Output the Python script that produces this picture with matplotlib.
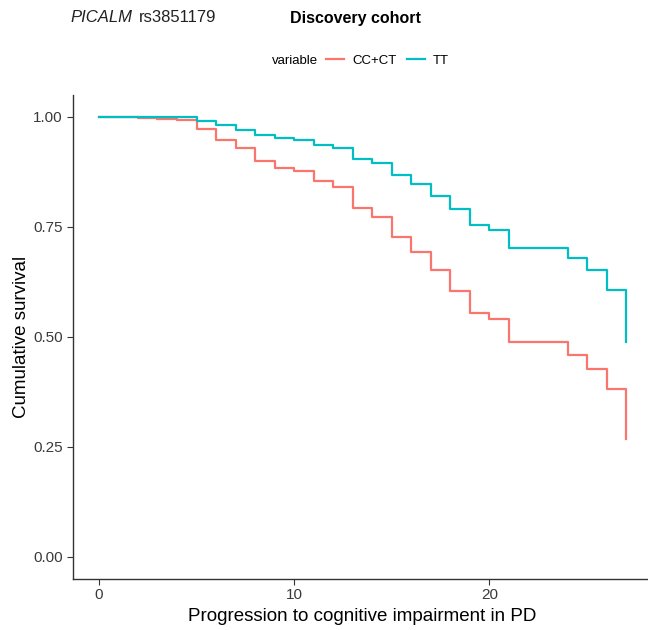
import numpy as np
import matplotlib.pyplot as plt
from matplotlib.lines import Line2D

plt.rcParams['font.family'] = ['Liberation Sans', 'DejaVu Sans']

# survival curves (step changes at whole years)
time_cc = [0, 2, 3, 4, 5, 6, 7, 8, 9, 10, 11, 12, 13, 14, 15, 16, 17, 18, 19, 20, 21, 24, 25, 26, 27]
surv_cc = [1.0, 0.998, 0.995, 0.993, 0.973, 0.948, 0.930, 0.900, 0.883, 0.877, 0.855, 0.840, 0.793,
           0.772, 0.728, 0.692, 0.651, 0.605, 0.555, 0.541, 0.488, 0.459, 0.426, 0.380, 0.268]

time_tt = [0, 3, 5, 6, 7, 8, 9, 10, 11, 12, 13, 14, 15, 16, 17, 18, 19, 20, 21, 24, 25, 26, 27]
surv_tt = [1.0, 0.999, 0.990, 0.981, 0.971, 0.960, 0.952, 0.948, 0.937, 0.930, 0.905, 0.895, 0.869,
           0.847, 0.821, 0.791, 0.755, 0.744, 0.702, 0.679, 0.651, 0.607, 0.489]

groups = ['CC+CT', 'TT']
colors = ['#F8766D', '#00BFC4']
yticks = [0.0, 0.25, 0.5, 0.75, 1.0]
xticks = [0, 10, 20]

W, H = 648, 630
fig = plt.figure(figsize=(W / 100, H / 100), dpi=100)
ax = fig.add_axes([72.5 / W, (H - 578.5) / H, 580 / W, 483.5 / H])

ax.step(time_cc, surv_cc, where='post', color=colors[0], lw=1.6)
ax.step(time_tt, surv_tt, where='post', color=colors[1], lw=1.6)

ax.set_xlim(-1.35, 28.35)
ax.set_ylim(-0.05, 1.05)
ax.set_xticks(xticks)
ax.set_yticks(yticks)
ax.set_yticklabels(['%.2f' % v for v in yticks])

for s in ['top', 'right']:
    ax.spines[s].set_visible(False)
for s in ['left', 'bottom']:
    ax.spines[s].set_color('#333333')
    ax.spines[s].set_linewidth(1.0)
ax.tick_params(length=4, width=0.8, color='#333333', labelsize=11, labelcolor='#3A3A3A', pad=3)

ax.set_xlabel('Progression to cognitive impairment in PD', fontsize=13.5, labelpad=4)
ax.set_ylabel('Cumulative survival', fontsize=13.5, labelpad=2)

# titles
fig.text(70 / W, 1 - 18 / H, 'PICALM', fontsize=12, style='italic', va='center', ha='left', color='#222222')
fig.text(139 / W, 1 - 18 / H, 'rs3851179', fontsize=12, va='center', ha='left', color='#222222')
fig.text(290 / W, 1 - 18 / H, 'Discovery cohort', fontsize=11.5, weight='bold', va='center', ha='left')

# legend
fig.text(272 / W, 1 - 61 / H, 'variable', fontsize=9.5, va='center', ha='left')
handles = [Line2D([], [], color=c, lw=1.6) for c in colors]
fig.legend(handles, groups, ncol=2, loc='center left', bbox_to_anchor=(326 / W, 1 - 61 / H),
           frameon=False, fontsize=9.5, handlelength=1.4, handletextpad=0.6,
           columnspacing=0.75, borderpad=0, borderaxespad=0)

fig.savefig('out.png', dpi=100)
